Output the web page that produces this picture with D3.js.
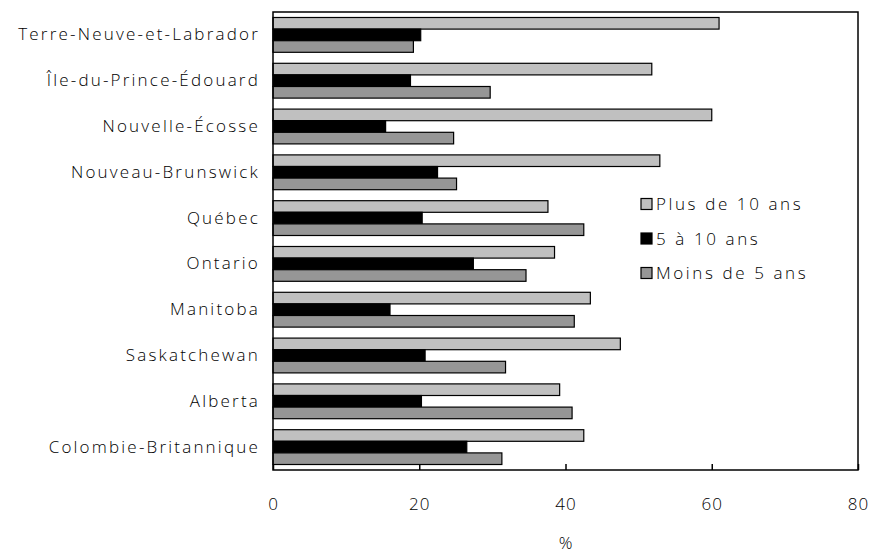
<!DOCTYPE html>
<html><head><meta charset="utf-8">
<script src="https://cdn.jsdelivr.net/npm/d3@7"></script>
<style>body{margin:0;background:#fff}svg text{font-family:"Open Sans",sans-serif;font-weight:300;fill:#000}</style>
</head><body><svg id="c" width="869" height="554"></svg>
<script>
const categories = ["Terre-Neuve-et-Labrador","Île-du-Prince-Édouard","Nouvelle-Écosse","Nouveau-Brunswick","Québec","Ontario","Manitoba","Saskatchewan","Alberta","Colombie-Britannique"];
const seriesNames = ["Plus de 10 ans","5 à 10 ans","Moins de 5 ans"];
const plus10 = [61.0,51.8,60.0,52.9,37.6,38.5,43.4,47.5,39.2,42.5];
const from5to10 = [20.2,18.8,15.4,22.5,20.4,27.4,16.0,20.8,20.3,26.5];
const under5 = [19.2,29.7,24.7,25.1,42.5,34.6,41.2,31.8,40.9,31.3];
const xTicks = [0,20,40,60,80];
const colors = ["#c0c0c0","#000000","#969696"];

const series = [plus10, from5to10, under5];
const svg = d3.select("#c");
const L=273, R=858, T=12, B=470;
const FONT = "'Open Sans',sans-serif";
const x = d3.scaleLinear().domain([0,80]).range([L,R]);
const y = d3.scaleBand().domain(categories).range([T,B]).paddingInner(0.24).paddingOuter(0.12);
const y2 = d3.scaleBand().domain(seriesNames).range([0,y.bandwidth()]);

const g = svg.append("g");
categories.forEach((c,i)=>{
  seriesNames.forEach((s,j)=>{
    g.append("rect").attr("x",x(0)).attr("y",y(c)+y2(s))
     .attr("width",x(series[j][i])-x(0)).attr("height",y2.bandwidth())
     .attr("fill",colors[j]).attr("stroke","#000").attr("stroke-width",1.2);
  });
});

svg.append("rect").attr("x",L).attr("y",T).attr("width",R-L).attr("height",B-T)
  .attr("fill","none").attr("stroke","#000").attr("stroke-width",1.5);

const ax = svg.append("g").attr("transform",`translate(0,${B})`)
  .call(d3.axisBottom(x).tickValues(xTicks).tickSizeInner(-6).tickSizeOuter(0).tickPadding(28));
ax.select(".domain").remove();
ax.selectAll("line").attr("stroke","#000").attr("stroke-width",1.5);
ax.selectAll("text").attr("font-size",17).style("font-family",FONT).style("font-weight",300).attr("letter-spacing",1);

svg.append("text").attr("x",x(40)).attr("y",549).attr("text-anchor","middle").attr("font-size",17).text("%");

svg.append("g").selectAll("text").data(categories).join("text")
  .attr("x",260).attr("y",c=>y(c)+y.bandwidth()/2+5.5).attr("text-anchor","end")
  .attr("font-size",17).attr("letter-spacing",2.2).text(c=>c);

const lg = svg.append("g");
seriesNames.forEach((s,j)=>{
  const yy = 204 + j*34.5;
  lg.append("rect").attr("x",641).attr("y",yy-5.5).attr("width",11).attr("height",11)
    .attr("fill",colors[j]).attr("stroke","#000").attr("stroke-width",1.2);
  lg.append("text").attr("x",656).attr("y",yy+6).attr("font-size",17).attr("letter-spacing",2.6).text(s);
});
</script></body></html>
